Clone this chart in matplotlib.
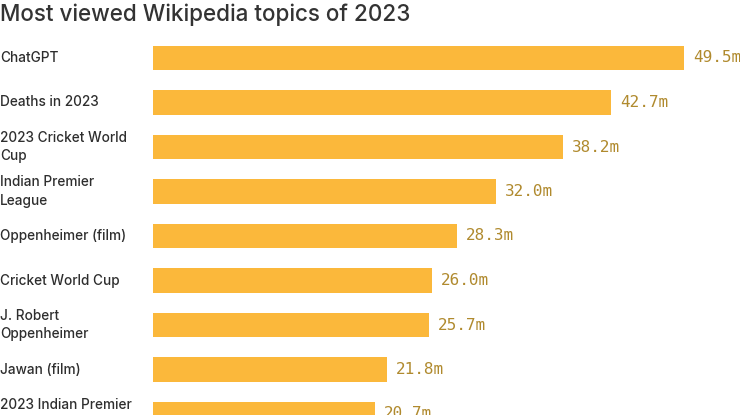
import matplotlib.pyplot as plt
import matplotlib.transforms as mtransforms

topics = ["ChatGPT", "Deaths in 2023", "2023 Cricket World\nCup", "Indian Premier\nLeague",
          "Oppenheimer (film)", "Cricket World Cup", "J. Robert\nOppenheimer", "Jawan (film)",
          "2023 Indian Premier\nLeague"]
views = [49.5, 42.7, 38.2, 32.0, 28.3, 26.0, 25.7, 21.8, 20.7]
value_labels = ["49.5m", "42.7m", "38.2m", "32.0m", "28.3m", "26.0m", "25.7m", "21.8m", "20.7m"]

W, H = 740, 415
fig = plt.figure(figsize=(W / 100, H / 100), dpi=100)
fig.patch.set_facecolor("white")

# axes from x=153px to right edge, y=40px to bottom edge
ax = fig.add_axes([153 / W, 0, 1 - 153 / W, 1 - 40 / H])
ax.set_facecolor("white")

pos = list(range(len(topics)))
ax.barh(pos, views, height=0.54, color="#FBB83B")

px_per_unit = 10.73
ax.set_xlim(0, (W - 153) / px_per_unit)
spacing = 44.5
ax.set_ylim((415 - 58) / spacing, (40 - 58) / spacing)
ax.axis("off")

for i, v in enumerate(views):
    ax.text(v + 9 / px_per_unit, i, value_labels[i], ha="left", va="center",
            fontsize=11.5, family="DejaVu Sans Mono", color="#B08A2E", clip_on=False)

# category labels at the left edge of the figure
trans = mtransforms.blended_transform_factory(fig.transFigure, ax.transData)
for i, t in enumerate(topics):
    ax.text(0.0, i, t, transform=trans, ha="left", va="center", fontsize=9.8,
            family="Inter", fontweight="medium", color="#2E2E2E", linespacing=1.45,
            clip_on=False)

fig.text(0.0, 1 - 15 / H, "Most viewed Wikipedia topics of 2023", ha="left", va="center",
         fontsize=16.2, family="Inter", fontweight="medium", color="#333333")

fig.savefig("out.png", dpi=100, facecolor="white")
